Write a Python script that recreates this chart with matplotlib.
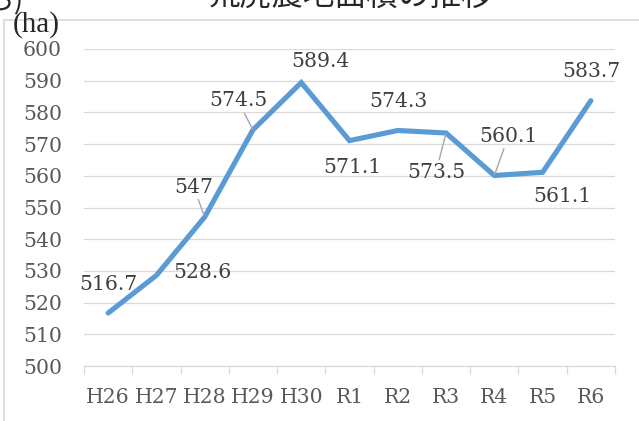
import matplotlib
matplotlib.use("Agg")
import matplotlib.pyplot as plt
from matplotlib.patches import Rectangle

# ---------------- DATA ---------------- #
YEARS = ["H26", "H27", "H28", "H29", "H30", "R1", "R2", "R3", "R4", "R5", "R6"]
AREA_HA = [516.7, 528.6, 547, 574.5, 589.4, 571.1, 574.3, 573.5, 560.1, 561.1, 583.7]
LABELS = ["516.7", "528.6", "547", "574.5", "589.4", "571.1",
          "574.3", "573.5", "560.1", "561.1", "583.7"]
TITLE = "荒廃農地面積の推移"

# label centre offsets from the point, in pixels (x right, y up)
LABEL_OFFSETS = [(0, 31), (46, 5), (-11, 32), (-15, 31), (19, 23), (3, -25),
                 (1, 31), (-10, -37), (14, 41), (20, -22), (1, 31)]
HAS_LEADER = [False, False, True, True, False, False, False, True, True, False, False]

# ---------------- THEME ---------------- #
LINE_COLOR = "#5b9bd5"
GRID_COLOR = "#d9d9d9"
TICK_COLOR = "#595959"
LABEL_COLOR = "#404040"
LEADER_COLOR = "#a6a6a6"
SERIF = "DejaVu Serif"
FS = 14.7

W, H = 639, 421
fig = plt.figure(figsize=(W / 100, H / 100), dpi=100)

# outer chart frame (cut off on right/bottom in the screenshot)
fig.patches.append(Rectangle((4 / W, -0.2), 1.2, 1.2 - 20 / H, transform=fig.transFigure,
                             fill=False, edgecolor=GRID_COLOR, linewidth=1.2))

# title, mostly cut off at the top
fig.text(351 / W, 1 - 5 / H, TITLE, ha="center", va="baseline", fontsize=22.8,
         family=["Noto Sans CJK JP", "DejaVu Sans"], color="#262626")
fig.text(23 / W, 1 - 9 / H, "ら)", ha="right", va="baseline", fontsize=20,
         family=["Noto Sans CJK JP", "DejaVu Sans"], color="#262626")

ax = fig.add_axes([84 / W, 1 - 366 / H, (615 - 84) / W, (366 - 49) / H])
x = list(range(len(YEARS)))
ax.plot(x, AREA_HA, color=LINE_COLOR, linewidth=3.7, solid_capstyle="round",
        solid_joinstyle="miter", zorder=3)

ax.set_xlim(-0.5, len(YEARS) - 0.5)
ax.set_ylim(500, 600)
ax.set_yticks(range(500, 601, 10))
ax.set_xticks(x)
ax.set_xticklabels(YEARS)
ax.set_xticks([i - 0.5 for i in range(len(YEARS) + 1)], minor=True)

for lab in ax.get_xticklabels() + ax.get_yticklabels():
    lab.set_family(SERIF)
    lab.set_fontsize(FS)
    lab.set_color(TICK_COLOR)

ax.tick_params(axis="y", length=0, pad=16)
ax.tick_params(axis="x", which="major", length=0, pad=16)
ax.tick_params(axis="x", which="minor", length=5.8, width=0.9, color=GRID_COLOR)

ax.grid(axis="y", color=GRID_COLOR, linewidth=0.9)
ax.set_axisbelow(True)
for side in ["left", "right", "top"]:
    ax.spines[side].set_visible(False)
ax.spines["bottom"].set_color(GRID_COLOR)
ax.spines["bottom"].set_linewidth(0.9)

# data labels
for i, (v, txt, (dx, dy), lead) in enumerate(zip(AREA_HA, LABELS, LABEL_OFFSETS, HAS_LEADER)):
    props = dict(arrowstyle="-", color=LEADER_COLOR, lw=1, shrinkA=0, shrinkB=1) if lead else None
    ax.annotate(txt, xy=(i, v), xytext=(dx, dy - 7.5), textcoords="offset pixels",
                ha="center", va="baseline", fontsize=FS, family=SERIF,
                color=LABEL_COLOR, arrowprops=props, zorder=4)

# unit label
fig.text(36 / W, 1 - 25 / H, "(ha)", ha="center", va="center", fontsize=21,
         family="Liberation Serif", color="#262626")

fig.savefig("out.png", dpi=100)
